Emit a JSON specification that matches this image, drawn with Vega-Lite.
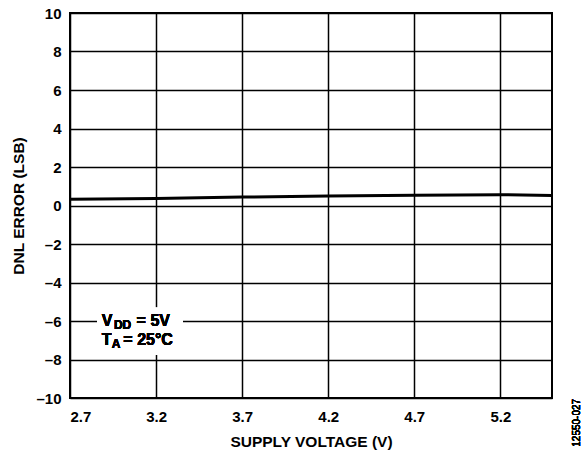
{
  "$schema": "https://vega.github.io/schema/vega-lite/v6.json",
  "width": 482,
  "height": 385,
  "autosize": "none",
  "padding": {"left": 70, "top": 13, "right": 30, "bottom": 54},
  "background": "white",
  "config": {
    "font": "Liberation Sans",
    "view": {"stroke": "black", "strokeWidth": 2},
    "axis": {
      "grid": true,
      "gridColor": "black",
      "gridOpacity": 1,
      "gridWidth": 1.5,
      "domain": false,
      "ticks": false,
      "tickSize": 0,
      "labelOverlap": false,
      "labelFont": "Liberation Sans",
      "labelFontWeight": "bold",
      "labelFontSize": 15,
      "labelColor": "black",
      "titleFont": "Liberation Sans",
      "titleFontWeight": "bold",
      "titleFontSize": 15.5,
      "titleColor": "black"
    }
  },
  "data": {
    "values": [
      {"v": 2.7, "dnl": 0.32},
      {"v": 3.2, "dnl": 0.37},
      {"v": 3.7, "dnl": 0.44},
      {"v": 4.2, "dnl": 0.49},
      {"v": 4.7, "dnl": 0.53},
      {"v": 5.2, "dnl": 0.56},
      {"v": 5.5, "dnl": 0.52}
    ]
  },
  "layer": [
    {
      "mark": {"type": "line", "color": "black", "strokeWidth": 3},
      "encoding": {
        "x": {
          "field": "v", "type": "quantitative",
          "scale": {"domain": [2.7, 5.5], "nice": false, "zero": false},
          "axis": {"values": [2.7, 3.2, 3.7, 4.2, 4.7, 5.2], "tickCount": 20, "format": ".1f", "title": "SUPPLY VOLTAGE (V)", "labelPadding": 11, "titlePadding": 10}
        },
        "y": {
          "field": "dnl", "type": "quantitative",
          "scale": {"domain": [-10, 10], "nice": false},
          "axis": {"values": [-10, -8, -6, -4, -2, 0, 2, 4, 6, 8, 10], "tickCount": 20, "labelExpr": "replace(datum.label, /[\u2212-]/, '\u2013')", "title": "DNL ERROR (LSB)", "labelPadding": 9, "titlePadding": 9}
        }
      }
    },
    {
      "mark": {"type": "rect", "fill": "white"},
      "encoding": {
        "x": {"datum": 2.857},
        "x2": {"datum": 3.356},
        "y": {"datum": -5.31},
        "y2": {"datum": -7.75}
      }
    },
    {
      "mark": {"type": "text", "align": "left", "baseline": "alphabetic", "fontSize": 16, "fontWeight": "bold", "font": "Liberation Sans", "color": "black"},
      "encoding": {"x": {"datum": 2.884}, "y": {"datum": -6.27}, "text": {"value": "V"}}
    },
    {
      "mark": {"type": "text", "align": "left", "baseline": "alphabetic", "fontSize": 12, "fontWeight": "bold", "font": "Liberation Sans", "color": "black"},
      "encoding": {"x": {"datum": 2.955}, "y": {"datum": -6.43}, "text": {"value": "DD"}}
    },
    {
      "mark": {"type": "text", "align": "left", "baseline": "alphabetic", "fontSize": 16, "fontWeight": "bold", "font": "Liberation Sans", "color": "black"},
      "encoding": {"x": {"datum": 3.087}, "y": {"datum": -6.27}, "text": {"value": "= 5V"}}
    },
    {
      "mark": {"type": "text", "align": "left", "baseline": "alphabetic", "fontSize": 16, "fontWeight": "bold", "font": "Liberation Sans", "color": "black"},
      "encoding": {"x": {"datum": 2.884}, "y": {"datum": -7.23}, "text": {"value": "T"}}
    },
    {
      "mark": {"type": "text", "align": "left", "baseline": "alphabetic", "fontSize": 12, "fontWeight": "bold", "font": "Liberation Sans", "color": "black"},
      "encoding": {"x": {"datum": 2.942}, "y": {"datum": -7.39}, "text": {"value": "A"}}
    },
    {
      "mark": {"type": "text", "align": "left", "baseline": "alphabetic", "fontSize": 16, "fontWeight": "bold", "font": "Liberation Sans", "color": "black"},
      "encoding": {"x": {"datum": 3.01}, "y": {"datum": -7.23}, "text": {"value": "= 25°C"}}
    },
    {
      "mark": {"type": "text", "align": "left", "baseline": "alphabetic", "angle": 270, "fontSize": 10, "font": "Liberation Sans", "color": "black", "dx": -48.7, "dy": 28.3},
      "encoding": {"x": {"datum": 5.5}, "y": {"datum": -10}, "text": {"value": "12550-027"}}
    }
  ]
}
